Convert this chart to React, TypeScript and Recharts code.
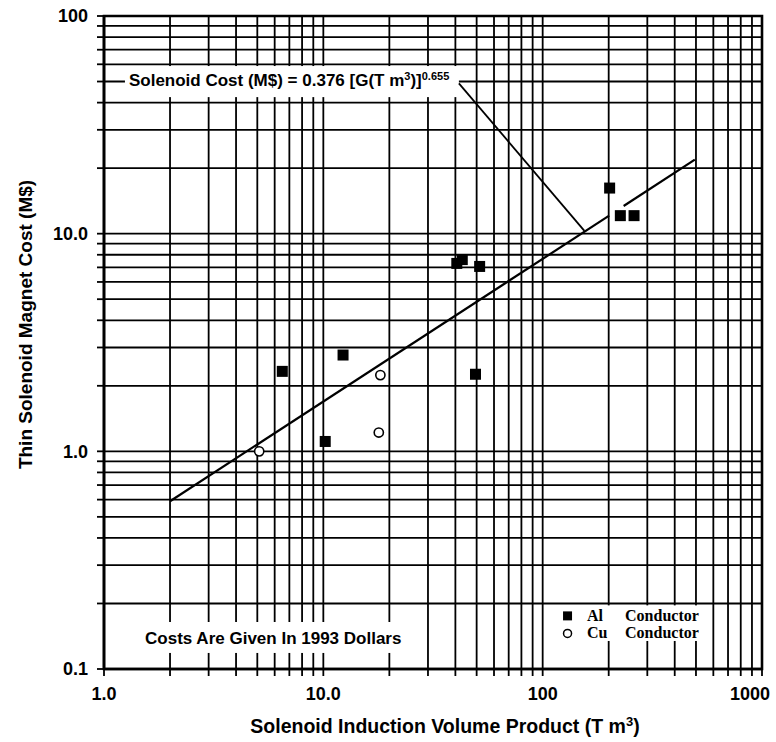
import React from "react";
import {
  ScatterChart,
  Scatter,
  XAxis,
  YAxis,
  CartesianGrid,
  ReferenceArea,
  ReferenceLine,
} from "recharts";

const SANS = "'Liberation Sans', Arial, Helvetica, sans-serif";
const SERIF = "'Liberation Serif', 'Times New Roman', serif";

// log grid positions
const xTicks = [1, 2, 3, 4, 5, 6, 7, 8, 9, 10, 20, 30, 40, 50, 60, 70, 80, 90, 100, 200, 300, 400, 500, 600, 700, 800, 900, 1000];
const yTicks = [0.1, 0.2, 0.3, 0.4, 0.5, 0.6, 0.7, 0.8, 0.9, 1, 2, 3, 4, 5, 6, 7, 8, 9, 10, 20, 30, 40, 50, 60, 70, 80, 90, 100];
const xDecades = [1, 10, 100, 1000];
const xDecadeLabels = ["1.0", "10.0", "100", "1000"];
const yDecades = [0.1, 1, 10, 100];
const yDecadeLabels = ["0.1", "1.0", "10.0", "100"];

// Al conductor magnets (filled squares)
const alX = [6.5, 10.2, 12.3, 40.6, 43, 49.4, 51.6, 202, 226, 261];
const alY = [2.33, 1.11, 2.77, 7.3, 7.6, 2.26, 7.07, 16.2, 12.1, 12.1];
// Cu conductor magnets (open circles)
const cuX = [5.1, 17.9, 18.2];
const cuY = [1.0, 1.22, 2.24];
// fit line, broken where it passes the squares near 200
const fitLowX = [2, 201];
const fitLowY = [0.59, 12.1];
const fitHighX = [234, 494];
const fitHighY = [13.4, 21.9];
// leader from equation label to fit
const leaderX = [41.5, 155];
const leaderY = [49, 10.3];

const zip = (xs: number[], ys: number[]) => xs.map((x, i) => ({ x, y: ys[i] }));
const alData = zip(alX, alY);
const cuData = zip(cuX, cuY);
const fitLow = zip(fitLowX, fitLowY);
const fitHigh = zip(fitHighX, fitHighY);
const leader = zip(leaderX, leaderY);

const AlSquare = (p: any) => <rect x={p.cx - 5.5} y={p.cy - 5.5} width={11} height={11} fill="#000" />;
const CuCircle = (p: any) => <circle cx={p.cx} cy={p.cy} r={4.6} fill="#fff" stroke="#000" strokeWidth={1.6} />;
const NoDot = () => <g />;

const XTick = ({ x, y, payload }: any) => {
  const i = xDecades.indexOf(payload.value);
  if (i < 0) return <g />;
  const last = i === xDecades.length - 1;
  return (
    <text x={last ? x + 8 : x} y={y} dy="0.71em" textAnchor={last ? "end" : "middle"}
      fontFamily={SANS} fontWeight="bold" fontSize={18} fill="#000">
      {xDecadeLabels[i]}
    </text>
  );
};

const YTick = ({ x, y, payload }: any) => {
  const i = yDecades.indexOf(payload.value);
  if (i < 0) return <g />;
  return (
    <text x={x} y={y} dy="0.355em" textAnchor="end" fontFamily={SANS} fontWeight="bold" fontSize={18} fill="#000">
      {yDecadeLabels[i]}
    </text>
  );
};

const YTitle = (p: any) => {
  const vb = p.viewBox;
  return (
    <text transform={`translate(${vb.x + 25},${vb.y + vb.height / 2 - 18}) rotate(-90)`} textAnchor="middle"
      dominantBaseline="central" fontFamily={SANS} fontWeight="bold" fontSize={19} fill="#000">
      Thin Solenoid Magnet Cost (M$)
    </text>
  );
};

const XTitle = (p: any) => {
  const vb = p.viewBox;
  return (
    <text x={vb.x + vb.width / 2 + 12} y={vb.y + 64} textAnchor="middle" fontFamily={SANS} fontWeight="bold" fontSize={19.5} fill="#000">
      Solenoid Induction Volume Product (T m<tspan dy={-7} fontSize={13}>3</tspan>
      <tspan dy={7}>)</tspan>
    </text>
  );
};

const EqBox = (p: any) => (
  <g>
    <rect x={p.x} y={p.y} width={p.width} height={p.height} fill="#fff" />
    <text x={p.x + 4} y={p.y + 20} fontFamily={SANS} fontWeight="bold" fontSize={17} fill="#000">
      Solenoid Cost (M$) = 0.376 [G(T m<tspan dy={-6} fontSize={11}>3</tspan>
      <tspan dy={6}>)]</tspan>
      <tspan dy={-6} fontSize={11}>0.655</tspan>
    </text>
  </g>
);

const NoteBox = (p: any) => (
  <g>
    <rect x={p.x} y={p.y} width={p.width} height={p.height} fill="#fff" />
    <text x={p.x + 5} y={p.y + 22} fontFamily={SANS} fontWeight="bold" fontSize={17} fill="#000">
      Costs Are Given In 1993 Dollars
    </text>
  </g>
);

const LegendBox = (p: any) => (
  <g fontFamily={SERIF} fontWeight="bold" fontSize={16} fill="#000">
    <rect x={p.x} y={p.y} width={p.width} height={p.height} fill="#fff" />
    <rect x={p.x + 15} y={p.y + 6} width={9} height={9} fill="#000" />
    <circle cx={p.x + 19.5} cy={p.y + 28} r={4} fill="#fff" stroke="#000" strokeWidth={1.5} />
    <text x={p.x + 39} y={p.y + 16}>Al</text>
    <text x={p.x + 77} y={p.y + 16}>Conductor</text>
    <text x={p.x + 39} y={p.y + 33}>Cu</text>
    <text x={p.x + 77} y={p.y + 33}>Conductor</text>
  </g>
);

export default function App() {
  return (
    <div style={{ position: "absolute", left: 0, top: 0, background: "#fff" }}>
      <ScatterChart width={776} height={742} margin={{ top: 16, right: 14, bottom: 0, left: 0 }}>
        <CartesianGrid stroke="#000" strokeWidth={1.8} />
        <XAxis type="number" dataKey="x" scale="log" domain={[1, 1000]} ticks={xTicks} interval={0}
          height={73} tickSize={7} tickMargin={11} tick={<XTick />}
          axisLine={{ stroke: "#000", strokeWidth: 2.6 }} tickLine={{ stroke: "#000", strokeWidth: 1.8 }}
          label={<XTitle />} />
        <YAxis type="number" dataKey="y" scale="log" domain={[0.1, 100]} ticks={yTicks} interval={0}
          width={104} tickSize={7} tickMargin={9} tick={<YTick />}
          axisLine={{ stroke: "#000", strokeWidth: 2.6 }} tickLine={{ stroke: "#000", strokeWidth: 1.8 }}
          label={<YTitle />} />
        <ReferenceArea x1={1} x2={1000} y1={0.1} y2={100} fill="none" stroke="#000" strokeWidth={2.6} />
        <ReferenceArea x1={1.246} x2={41.5} y1={42.4} y2={58.9} shape={<EqBox />} />
        <ReferenceArea x1={1.46} x2={23.6} y1={0.1185} y2={0.1644} shape={<NoteBox />} />
        <ReferenceArea x1={105.8} x2={550} y1={0.1345} y2={0.196} shape={<LegendBox />} />
        <ReferenceLine segment={leader} stroke="#000" strokeWidth={1.8} />
        <Scatter data={fitLow} line={{ stroke: "#000", strokeWidth: 2.2 }} shape={<NoDot />} isAnimationActive={false} />
        <Scatter data={fitHigh} line={{ stroke: "#000", strokeWidth: 2.2 }} shape={<NoDot />} isAnimationActive={false} />
        <Scatter data={alData} shape={<AlSquare />} isAnimationActive={false} />
        <Scatter data={cuData} shape={<CuCircle />} isAnimationActive={false} />
      </ScatterChart>
    </div>
  );
}
